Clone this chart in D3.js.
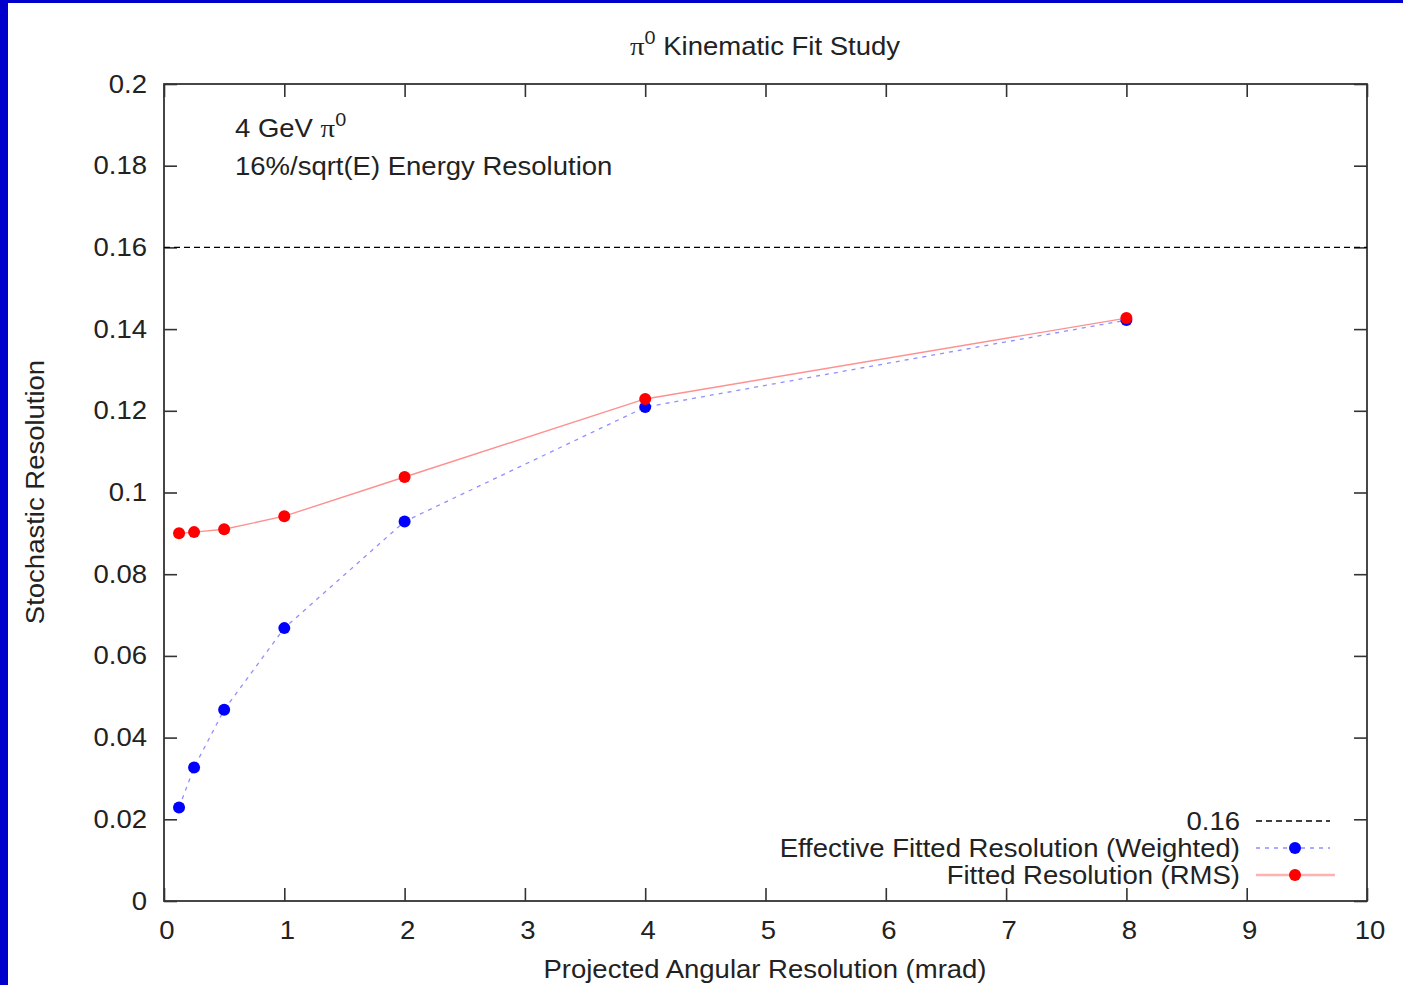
<!DOCTYPE html>
<html>
<head>
<meta charset="utf-8">
<script src="https://cdn.jsdelivr.net/npm/d3@7"></script>
<style>
html,body{margin:0;padding:0;background:#fff;}
svg{display:block;}
text{font-family:"Liberation Sans",Arial,sans-serif;fill:#222;}
</style>
</head>
<body>
<svg id="chart" width="1403" height="985"></svg>
<script>
// ---- data ----
const angRes = [0.125, 0.25, 0.5, 1, 2, 4, 8];
const weighted = [0.0229, 0.0327, 0.0468, 0.0668, 0.0929, 0.1209, 0.1422];
const rms = [0.0900, 0.0903, 0.0910, 0.0942, 0.1038, 0.1229, 0.1427];
const refLevel = 0.16;
const xTicks = [0,1,2,3,4,5,6,7,8,9,10];
const yTicks = [0,0.02,0.04,0.06,0.08,0.1,0.12,0.14,0.16,0.18,0.2];
const legendLabels = ["0.16", "Effective Fitted Resolution (Weighted)", "Fitted Resolution (RMS)"];

// ---- layout ----
const W = 1403, H = 985;
const P = {l:164, r:1367, t:84, b:901};
const FS = 25, SX = 1.1;
const svg = d3.select("#chart");

svg.append("rect").attr("width",W).attr("height",H).attr("fill","#fff");
svg.append("rect").attr("x",0).attr("y",0).attr("width",8).attr("height",H).attr("fill","#0000cc");
svg.append("rect").attr("x",0).attr("y",0).attr("width",W).attr("height",3).attr("fill","#0000cc");

const x = d3.scaleLinear().domain([0,10]).range([P.l,P.r]);
const y = d3.scaleLinear().domain([0,0.2]).range([P.b,P.t]);

function label(g, tx, ty, anchor, rot){
  const t = g.append("g").attr("transform",`translate(${tx},${ty})${rot?` rotate(${rot})`:""} scale(${SX},1)`)
    .append("text").attr("font-size",FS).attr("text-anchor",anchor||"start");
  return t;
}

const fmtY = d => String(+d.toFixed(2));

// axes
const gx = svg.append("g").attr("transform",`translate(0,${P.b})`)
  .call(d3.axisBottom(x).tickValues(xTicks).tickSizeInner(-13).tickSizeOuter(0).tickPadding(20).tickFormat(d=>String(d)));
const gxt = svg.append("g").attr("transform",`translate(0,${P.t})`)
  .call(d3.axisTop(x).tickValues(xTicks).tickSizeInner(-13).tickSizeOuter(0).tickFormat(""));
const gy = svg.append("g").attr("transform",`translate(${P.l},0)`)
  .call(d3.axisLeft(y).tickValues(yTicks).tickSizeInner(-13).tickSizeOuter(0).tickPadding(17).tickFormat(fmtY));
const gyr = svg.append("g").attr("transform",`translate(${P.r},0)`)
  .call(d3.axisRight(y).tickValues(yTicks).tickSizeInner(-13).tickSizeOuter(0).tickFormat(""));

[gx,gxt,gy,gyr].forEach(g=>{
  g.select(".domain").remove();
  g.selectAll(".tick line").attr("stroke","#333").attr("stroke-width",1.6);
  g.selectAll("text").attr("font-size",FS).attr("font-family","Liberation Sans, Arial, sans-serif").attr("fill","#222");
});
gx.selectAll(".tick text").attr("x",2.5/SX).attr("transform",`scale(${SX},1)`);
gy.selectAll(".tick text").attr("x",-17/SX).attr("transform",`scale(${SX},1)`);

// frame
svg.append("rect").attr("x",P.l).attr("y",P.t).attr("width",P.r-P.l).attr("height",P.b-P.t)
  .attr("fill","none").attr("stroke","#333").attr("stroke-width",1.8);

// reference line
svg.append("line").attr("x1",x(0)).attr("x2",x(10)).attr("y1",y(refLevel)).attr("y2",y(refLevel))
  .attr("stroke","#000").attr("stroke-width",1.3).attr("stroke-dasharray","6,4");

const blueLine = "#8f8fff", redLine = "#ff9090";
const lineGen = vals => d3.line().x((d,i)=>x(angRes[i])).y(d=>y(d))(vals);

svg.append("path").attr("d",lineGen(weighted)).attr("fill","none")
  .attr("stroke",blueLine).attr("stroke-width",1.3).attr("stroke-dasharray","4,5");
svg.selectAll("circle.w").data(weighted).join("circle").attr("class","w")
  .attr("cx",(d,i)=>x(angRes[i])).attr("cy",d=>y(d)).attr("r",6).attr("fill","#0000ff");

svg.append("path").attr("d",lineGen(rms)).attr("fill","none")
  .attr("stroke",redLine).attr("stroke-width",1.4);
svg.selectAll("circle.r").data(rms).join("circle").attr("class","r")
  .attr("cx",(d,i)=>x(angRes[i])).attr("cy",d=>y(d)).attr("r",6).attr("fill","#ff0000");

// title
const tt = label(svg, 765, 55, "middle");
tt.append("tspan").attr("font-family","Liberation Serif, DejaVu Serif, serif").attr("font-size",FS*1.05).text("π");
tt.append("tspan").attr("font-size",FS*0.72).attr("dy",-11).text("0");
tt.append("tspan").attr("dy",11).text(" Kinematic Fit Study");

// annotations
const a1 = label(svg, 235, 137, "start");
a1.append("tspan").text("4 GeV ");
a1.append("tspan").attr("font-family","Liberation Serif, DejaVu Serif, serif").attr("font-size",FS*1.05).text("π");
a1.append("tspan").attr("font-size",FS*0.72).attr("dy",-11).text("0");
label(svg, 235, 175, "start").text("16%/sqrt(E) Energy Resolution");

// axis titles
label(svg, 765, 978, "middle").text("Projected Angular Resolution (mrad)");
label(svg, 44, 492, "middle", -90).text("Stochastic Resolution");

// legend
const legY = [821, 848, 875];
legendLabels.forEach((t,i)=>label(svg, 1240, legY[i]+9, "end").text(t));
svg.append("line").attr("x1",1256).attr("x2",1330).attr("y1",legY[0]).attr("y2",legY[0])
  .attr("stroke","#000").attr("stroke-width",1.3).attr("stroke-dasharray","6,4");
svg.append("line").attr("x1",1256).attr("x2",1330).attr("y1",legY[1]).attr("y2",legY[1])
  .attr("stroke",blueLine).attr("stroke-width",1.3).attr("stroke-dasharray","4,5");
svg.append("circle").attr("cx",1295).attr("cy",legY[1]).attr("r",6).attr("fill","#0000ff");
svg.append("line").attr("x1",1256).attr("x2",1335).attr("y1",legY[2]).attr("y2",legY[2])
  .attr("stroke","#ffb0b0").attr("stroke-width",2.5);
svg.append("circle").attr("cx",1295).attr("cy",legY[2]).attr("r",6).attr("fill","#ff0000");
</script>
</body>
</html>
